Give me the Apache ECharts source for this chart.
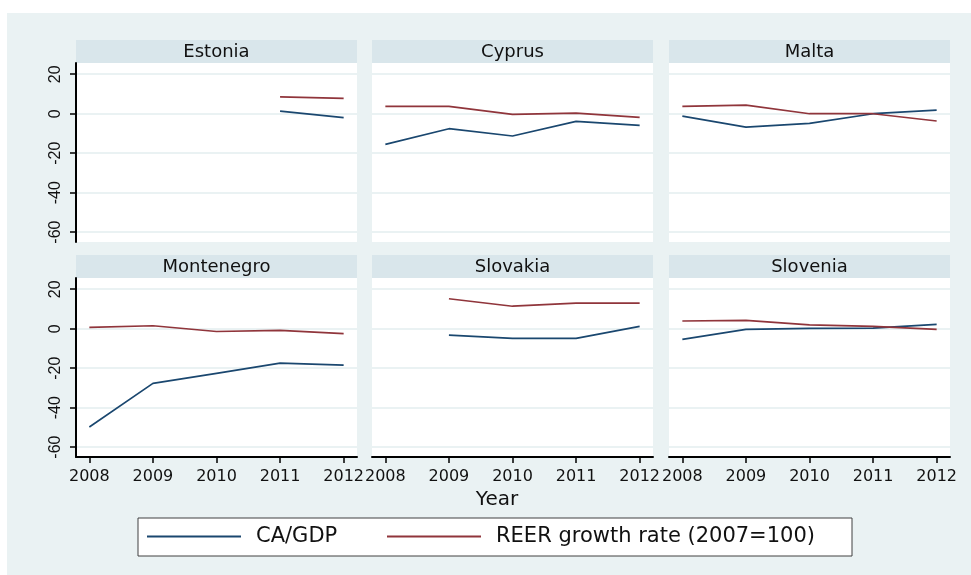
<!DOCTYPE html>
<html>
<head>
<meta charset="utf-8">
<script src="https://cdn.jsdelivr.net/npm/echarts@6/dist/echarts.min.js"></script>
<style>
html,body{margin:0;padding:0;background:#fff;}
#chart{width:971px;height:575px;background:linear-gradient(#eaf2f3,#eaf2f3) 7px 13px/964px 562px no-repeat,#fff;}
</style>
</head>
<body>
<div id="chart"></div>
<script>
// data
var years = [2008, 2009, 2010, 2011, 2012];
var countries = ['Estonia', 'Cyprus', 'Malta', 'Montenegro', 'Slovakia', 'Slovenia'];
var yTicks = [-60, -40, -20, 0, 20];
var seriesNames = ['CA/GDP', 'REER growth rate (2007=100)'];

// CA/GDP
var caEstonia    = [null, null, null, 1.3, -2.0];
var caCyprus     = [-15.5, -7.6, -11.3, -3.9, -5.9];
var caMalta      = [-1.2, -6.8, -4.9, 0.0, 1.8];
var caMontenegro = [-49.8, -27.7, -22.6, -17.4, -18.4];
var caSlovakia   = [null, -3.2, -4.9, -4.9, 1.2];
var caSlovenia   = [-5.4, -0.3, 0.2, 0.3, 2.2];
// REER growth rate
var reerEstonia    = [null, null, null, 8.5, 7.8];
var reerCyprus     = [3.7, 3.7, -0.3, 0.3, -1.9];
var reerMalta      = [3.7, 4.4, 0.0, 0.0, -3.7];
var reerMontenegro = [0.7, 1.5, -1.4, -0.8, -2.5];
var reerSlovakia   = [null, 15.2, 11.4, 13.0, 13.0];
var reerSlovenia   = [3.9, 4.2, 1.9, 1.2, -0.3];

var caData = [caEstonia, caCyprus, caMalta, caMontenegro, caSlovakia, caSlovenia];
var reerData = [reerEstonia, reerCyprus, reerMalta, reerMontenegro, reerSlovakia, reerSlovenia];

// layout
var FONT = '"DejaVu Sans", sans-serif';
var YFONT = '"Liberation Sans", Arial, sans-serif';
var colLeft = [76, 372, 669];
var rowTop = [63, 278];
var plotW = 281, plotH = 179, headH = 23;
var blue = '#1a476f', red = '#90353b';

var chart = echarts.init(document.getElementById('chart'));

function pairs(vals) {
    return years.map(function (y, i) { return [y, vals[i]]; });
}

var grids = [], xAxes = [], yAxes = [], series = [], graphics = [];
for (var i = 0; i < countries.length; i++) {
    var r = Math.floor(i / 3), c = i % 3;
    grids.push({
        left: colLeft[c], top: rowTop[r], width: plotW, height: plotH,
        show: true, backgroundColor: '#fff', borderWidth: 0
    });
    xAxes.push({
        gridIndex: i, type: 'value', min: 2007.79, max: 2012.21,
        axisLine: {show: r == 1, onZero: false, lineStyle: {color: '#000', width: 2}},
        axisTick: {show: r == 1, customValues: years, length: 6, lineStyle: {color: '#000', width: 1.5}},
        axisLabel: {show: r == 1, customValues: years, margin: 12, fontSize: 16, fontFamily: FONT, color: '#111',
            formatter: function (v) { return String(v); }},
        splitLine: {show: false}
    });
    yAxes.push({
        gridIndex: i, type: 'value', min: -65, max: 25.7,
        axisLine: {show: c == 0, lineStyle: {color: '#000', width: 2}},
        axisTick: {show: c == 0, customValues: yTicks, length: 6, lineStyle: {color: '#000', width: 1.5}},
        axisLabel: {show: c == 0, customValues: yTicks, rotate: 90, margin: 12, fontSize: 16, fontFamily: YFONT, color: '#111'},
        splitLine: {show: true, lineStyle: {color: '#eaf2f3', width: 2}}
    });
    series.push({
        name: seriesNames[0], type: 'line', xAxisIndex: i, yAxisIndex: i,
        data: pairs(caData[i]), showSymbol: false, color: blue,
        lineStyle: {color: blue, width: 1.7}
    });
    series.push({
        name: seriesNames[1], type: 'line', xAxisIndex: i, yAxisIndex: i,
        data: pairs(reerData[i]), showSymbol: false, color: red,
        lineStyle: {color: red, width: 1.7}
    });
    // panel header
    graphics.push({
        type: 'rect', shape: {x: colLeft[c], y: rowTop[r] - headH, width: plotW, height: headH},
        style: {fill: '#d9e6eb'}
    });
    graphics.push({
        type: 'text', x: colLeft[c] + plotW / 2, y: rowTop[r] - headH / 2 + 1,
        style: {text: countries[i], fill: '#111', font: '18px ' + FONT, textAlign: 'center', textVerticalAlign: 'middle'}
    });
}

// axis title and legend box
graphics.push({
    type: 'text', x: 497, y: 500,
    style: {text: 'Year', fill: '#111', font: '20px ' + FONT, textAlign: 'center', textVerticalAlign: 'middle'}
});
graphics.push({
    type: 'rect', shape: {x: 138, y: 518, width: 714, height: 38},
    style: {fill: '#fff', stroke: '#404040', lineWidth: 1}
});

var legendCommon = {
    top: 526, padding: 0, itemWidth: 94, itemHeight: 2, icon: 'rect',
    selectedMode: false,
    textStyle: {fontSize: 21, fontFamily: FONT, color: '#111', padding: [0, 0, 0, 10]}
};

var option = {
    animation: false,
    grid: grids,
    xAxis: xAxes,
    yAxis: yAxes,
    series: series,
    legend: [
        Object.assign({data: [seriesNames[0]], left: 147}, legendCommon),
        Object.assign({data: [seriesNames[1]], left: 387}, legendCommon)
    ],
    graphic: graphics
};
chart.setOption(option);
</script>
</body>
</html>
